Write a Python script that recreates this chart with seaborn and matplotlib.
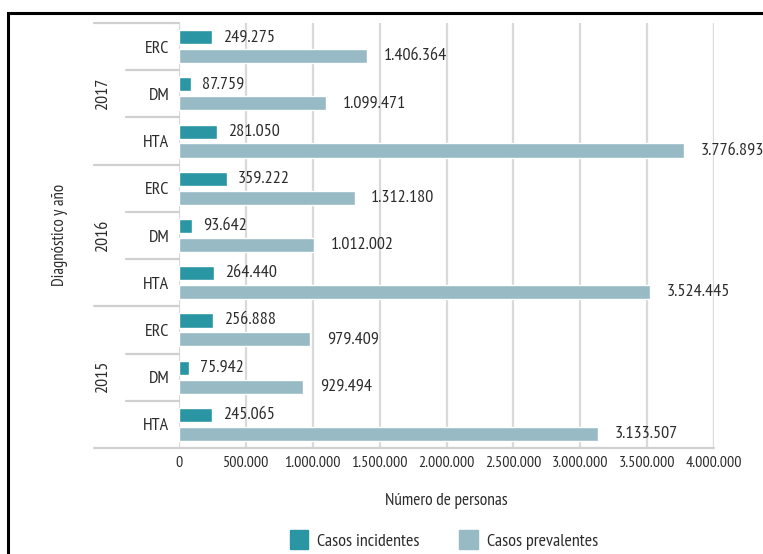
import pandas as pd
import seaborn as sns
import matplotlib.pyplot as plt
from matplotlib.patches import Rectangle
import matplotlib.transforms as mtransforms

anios = ['2017', '2016', '2015']
diagnosticos = ['ERC', 'DM', 'HTA']
incidentes = [249275, 87759, 281050, 359222, 93642, 264440, 256888, 75942, 245065]
prevalentes = [1406364, 1099471, 3776893, 1312180, 1012002, 3524445, 979409, 929494, 3133507]
xticks = [0, 500000, 1000000, 1500000, 2000000, 2500000, 3000000, 3500000, 4000000]

filas = [a + '-' + d for a in anios for d in diagnosticos]
df = pd.DataFrame({
    'fila': filas * 2,
    'tipo': ['Casos incidentes'] * len(filas) + ['Casos prevalentes'] * len(filas),
    'valor': incidentes + prevalentes,
})

def fmt(v):
    return f'{v:,.0f}'.replace(',', '.')

sns.set_style('white')
plt.rcParams['font.family'] = ['PT Sans Narrow', 'DejaVu Sans']
txt = '#2b2b2b'
teal = '#2A95A3'
gris_azul = '#97BAC4'

fig = plt.figure(figsize=(7.63, 5.54), dpi=100)
ax = fig.add_axes([179 / 763, 1 - 448 / 554, 535 / 763, 425 / 554])

sns.barplot(data=df, y='fila', x='valor', hue='tipo', order=filas,
            palette=[teal, gris_azul], saturation=1, width=0.8, gap=0.25,
            orient='h', legend=False, ax=ax)

ax.set_xlim(0, 4000000)
ax.set_ylim(8.5, -0.5)
ax.set_xticks(xticks)
ax.set_xticklabels([fmt(v) for v in xticks], fontsize=11.5, color=txt)
ax.set_yticks(range(len(filas)))
ax.set_yticklabels(diagnosticos * 3, fontsize=13, color=txt)
ax.tick_params(axis='both', length=0)
ax.tick_params(axis='y', pad=7)
ax.tick_params(axis='x', pad=6)
ax.set_axisbelow(True)
ax.grid(axis='x', color='#d9d9d9', lw=1.6)
ax.grid(axis='y', visible=False)
for s in ['top', 'right', 'left', 'bottom']:
    ax.spines[s].set_visible(False)
ax.set_xlabel('Número de personas', fontsize=12.5, color=txt, labelpad=16)
ax.set_ylabel('')

for cont, vals, pad in zip(ax.containers, [incidentes, prevalentes], [8, 12]):
    ax.bar_label(cont, labels=[fmt(v) for v in vals], padding=pad,
                 fontsize=13, color=txt, clip_on=False)

trans = mtransforms.blended_transform_factory(ax.transAxes, ax.transData)
for y in [-0.5, 2.5, 5.5, 8.5]:
    ax.plot([-0.159, 0], [y, y], transform=trans, color='#d0d0d0', lw=1.6, clip_on=False)
for y in [0.5, 1.5, 3.5, 4.5, 6.5, 7.5]:
    ax.plot([-0.099, 0], [y, y], transform=trans, color='#d0d0d0', lw=1.6, clip_on=False)
ax.plot([0, 1], [8.5, 8.5], transform=trans, color='#d0d0d0', lw=1.6, clip_on=False)

for i, a in enumerate(anios):
    ax.text(-0.142, 3 * i + 1, a, transform=trans, rotation=90, ha='center',
            va='center', fontsize=13, color=txt)

fig.text(60 / 763, 1 - 235 / 554, 'Diagnóstico y año', rotation=90, ha='center',
         va='center', fontsize=12, color=txt)

handles = [Rectangle((0, 0), 1, 1, color=teal), Rectangle((0, 0), 1, 1, color=gris_azul)]
fig.legend(handles, ['Casos incidentes', 'Casos prevalentes'], loc='center',
           bbox_to_anchor=(444 / 763, 1 - 540 / 554), ncol=2, frameon=False,
           fontsize=13, handlelength=1.0, handleheight=1.2, columnspacing=2.2,
           handletextpad=0.5, labelcolor=txt)

fig.patches.append(Rectangle((8 / 763, -0.1), 1.2, 1.1 - 12.5 / 554,
                             transform=fig.transFigure, fill=False, ec='black', lw=2.2))

fig.savefig('out.png', dpi=100)
